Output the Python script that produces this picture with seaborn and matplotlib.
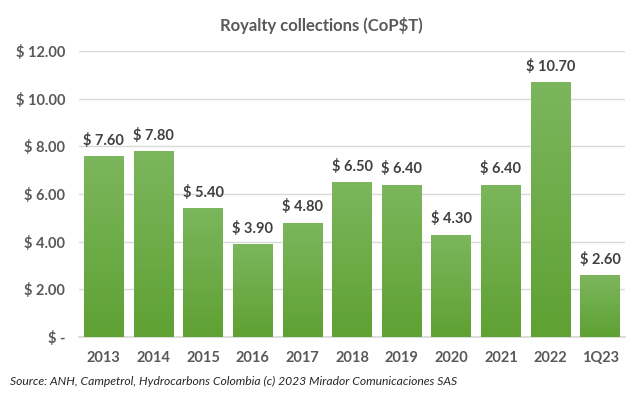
import matplotlib
matplotlib.use("Agg")
import matplotlib.pyplot as plt
import seaborn as sns
import numpy as np
import pandas as pd
from matplotlib.colors import LinearSegmentedColormap

categories = ["2013", "2014", "2015", "2016", "2017", "2018", "2019", "2020", "2021", "2022", "1Q23"]
values = [7.60, 7.80, 5.40, 3.90, 4.80, 6.50, 6.40, 4.30, 6.40, 10.70, 2.60]
yticks = [0, 2, 4, 6, 8, 10, 12]
ytick_labels = ["$ -", "$ 2.00", "$ 4.00", "$ 6.00", "$ 8.00", "$ 10.00", "$ 12.00"]

sns.set_theme(style="white")
plt.rcParams["font.family"] = ["Lato", "DejaVu Sans"]
text_color = "#595959"

df = pd.DataFrame({"cat": categories, "val": values})
fig = plt.figure(figsize=(6.43, 3.97), dpi=100)
ax = fig.add_axes([0.123, 0.151, 0.849, 0.7204])
sns.barplot(data=df, x="cat", y="val", color="#6aac45", width=0.8, ax=ax, zorder=2)
ax.set_ylim(0, 12)
xl = ax.get_xlim()

cmap = LinearSegmentedColormap.from_list("g", ["#5fa133", "#7cb65d"])
grad = np.linspace(0, 1, 256).reshape(-1, 1)
for p in ax.patches:
    x0, y0 = p.get_x(), p.get_y()
    w, h = p.get_width(), p.get_height()
    im = ax.imshow(grad, cmap=cmap, origin="lower", aspect="auto",
                   extent=[x0, x0 + w, y0, y0 + h], zorder=3)
    im.set_clip_path(p)
    p.set_facecolor("none")
    p.set_edgecolor("none")
ax.set_xlim(xl)
ax.set_ylim(0, 12)

for i, v in enumerate(values):
    ax.text(i, v + 0.35, f"$ {v:.2f}", ha="center", va="bottom",
            fontsize=10.5, fontweight="bold", color="#404040", zorder=4)

ax.set_yticks(yticks)
ax.set_yticklabels(ytick_labels)
ax.grid(axis="y", color="#d9d9d9", linewidth=1, zorder=0)
ax.set_axisbelow(True)
for s in ax.spines.values():
    s.set_visible(False)
ax.spines["bottom"].set_visible(True)
ax.spines["bottom"].set_color("#d9d9d9")
ax.tick_params(axis="both", length=0, labelsize=10.5, colors=text_color, pad=10)
for lbl in ax.get_xticklabels() + ax.get_yticklabels():
    lbl.set_fontweight("bold")
ax.set_xlabel("")
ax.set_ylabel("")

fig.text(0.5, 0.937, "Royalty collections (CoP$T)", ha="center", va="center",
         fontsize=12, fontweight="bold", color=text_color)
fig.text(0.016, 0.038, "Source: ANH, Campetrol, Hydrocarbons Colombia (c) 2023 Mirador Comunicaciones SAS",
         ha="left", va="center", fontsize=8.7, style="italic", color="#262626")

fig.savefig("out.png", dpi=100, facecolor="white")
